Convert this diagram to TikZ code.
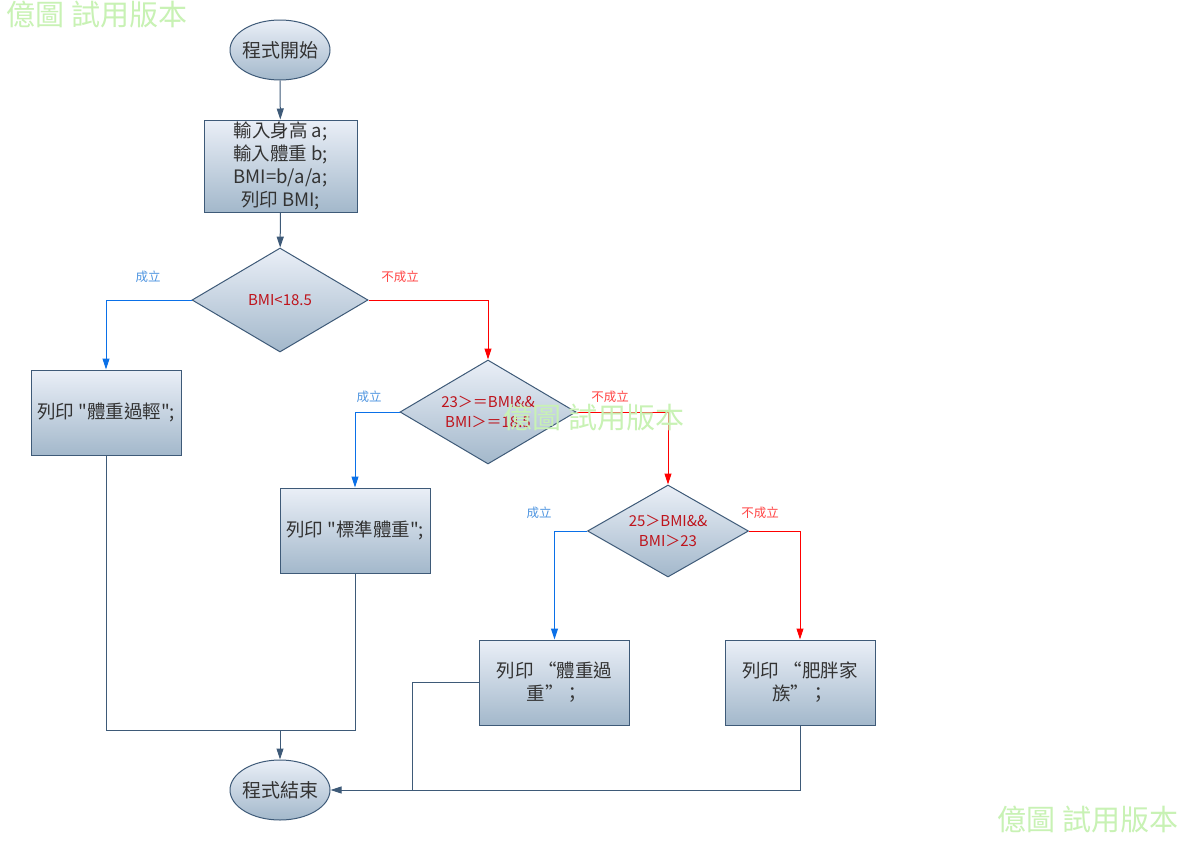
\documentclass[tikz,border=0pt]{standalone}
\usepackage{fontspec}
\setmainfont{Noto Sans CJK TC}[Ligatures=TeXOff]
\usetikzlibrary{shapes.geometric}
\usetikzlibrary{arrows.meta}

\definecolor{edgec}{RGB}{62,90,120}
\definecolor{topc}{RGB}{234,239,247}
\definecolor{botc}{RGB}{163,184,203}
\definecolor{yesc}{RGB}{10,112,232}
\definecolor{noc}{RGB}{255,0,0}
\definecolor{condc}{RGB}{190,20,28}
\definecolor{yeslbl}{RGB}{80,150,225}
\definecolor{nolbl}{RGB}{255,70,70}
\definecolor{wmc}{RGB}{200,242,180}

\tikzset{
  box/.style={rectangle, draw=edgec, line width=1pt, top color=topc, bottom color=botc, minimum width=150pt, minimum height=85pt, inner sep=0pt, align=center, text=black!80, font=\fontsize{18.5}{23}\selectfont},
  term/.style={ellipse, draw=edgec, line width=1pt, top color=topc, bottom color=botc, minimum width=100pt, minimum height=60pt, inner sep=-5pt, text=black!80, font=\fontsize{19}{22}\selectfont},
  cond/.style={diamond, draw=edgec, line width=1pt, top color=topc, bottom color=botc, inner sep=0pt, align=center, text=condc, font=\fontsize{15}{20}\selectfont},
  flow/.style={draw=edgec, line width=1pt, -{Triangle[length=11pt,width=7pt]}},
  yesline/.style={draw=yesc, line width=1pt, -{Triangle[length=11pt,width=7pt]}},
  noline/.style={draw=noc, line width=1pt, -{Triangle[length=11pt,width=7pt]}},
  yestxt/.style={text=yeslbl, font=\fontsize{12.5}{14}\selectfont},
  notxt/.style={text=nolbl, font=\fontsize{12.5}{14}\selectfont},
  wmark/.style={text=wmc, font=\fontsize{29}{30}\selectfont}
}

\begin{document}
\begin{tikzpicture}[x=1pt,y=-1pt]
	\useasboundingbox[fill=white] (0,0) rectangle (1189,841); %hoja
	\node[wmark] (wm1) at (97,15) {億圖 試用版本}; %marcas de agua
	\node[wmark] (wm3) at (1088,820) {億圖 試用版本};
	\node[term] (start) at (280,50) {程式開始}; %inicio
	\node[box, minimum width=153pt, minimum height=92pt] (input) at (280.5,166) {輸入身高 a;\\輸入體重 b;\\BMI=b/a/a;\\列印 BMI;}; %entrada
	\node[cond, aspect=1.69, minimum width=176pt, minimum height=104pt] (c1) at (280,300) {BMI<18.5}; %primera condicion
	\node[cond, aspect=1.69, minimum width=176pt, minimum height=104pt] (c2) at (488,412) {23＞＝BMI\&\&\\BMI＞＝18.5}; %segunda condicion
	\node[cond, aspect=1.75, minimum width=161pt, minimum height=92pt] (c3) at (668,531) {25＞BMI\&\&\\BMI＞23}; %tercera condicion
	\node[box] (light) at (106,412.5) {列印 "體重過輕";}; %salidas
	\node[box] (normal) at (355,530.5) {列印 "標準體重";};
	\node[box] (heavy) at (554.5,682.5) {列印 “體重過\\重”；};
	\node[box] (obese) at (800,682.5) {列印 “肥胖家\\族”；};
	\node[term] (stop) at (280,790) {程式結束}; %fin
	\coordinate (j1) at (280,730); %uniones
	\coordinate (j2) at (412,790);
	\draw[flow] (start) -- (input);
	\draw[flow] (input) -- (c1);
	\draw[yesline] (c1.west) -| (light.north); %ramas de c1
	\draw[noline] (c1.east) -| (c2.north);
	\draw[yesline] (c2.west) -| (normal.north); %ramas de c2
	\draw[noline] (c2.east) -| (c3.north);
	\draw[yesline] (c3.west) -| (heavy.north); %ramas de c3
	\draw[noline] (c3.east) -| (obese.north);
	\node[yestxt] (y1) at (148,277) {成立}; %etiquetas
	\node[notxt] (n1) at (400,277) {不成立};
	\node[yestxt] (y2) at (369,397) {成立};
	\node[notxt] (n2) at (610,397) {不成立};
	\node[yestxt] (y3) at (539,513) {成立};
	\node[notxt] (n3) at (760,513) {不成立};
	\draw[draw=edgec, line width=1pt] (light.south) |- (j1) -| (normal.south); %lineas de regreso
	\draw[flow] (j1) -- (stop.north);
	\draw[draw=edgec, line width=1pt] (heavy.west) -| (j2);
	\draw[flow] (obese.south) |- (stop.east);
	\node[wmark] (wm2) at (594,418) {億圖 試用版本}; %marca encima
\end{tikzpicture}
\end{document}
